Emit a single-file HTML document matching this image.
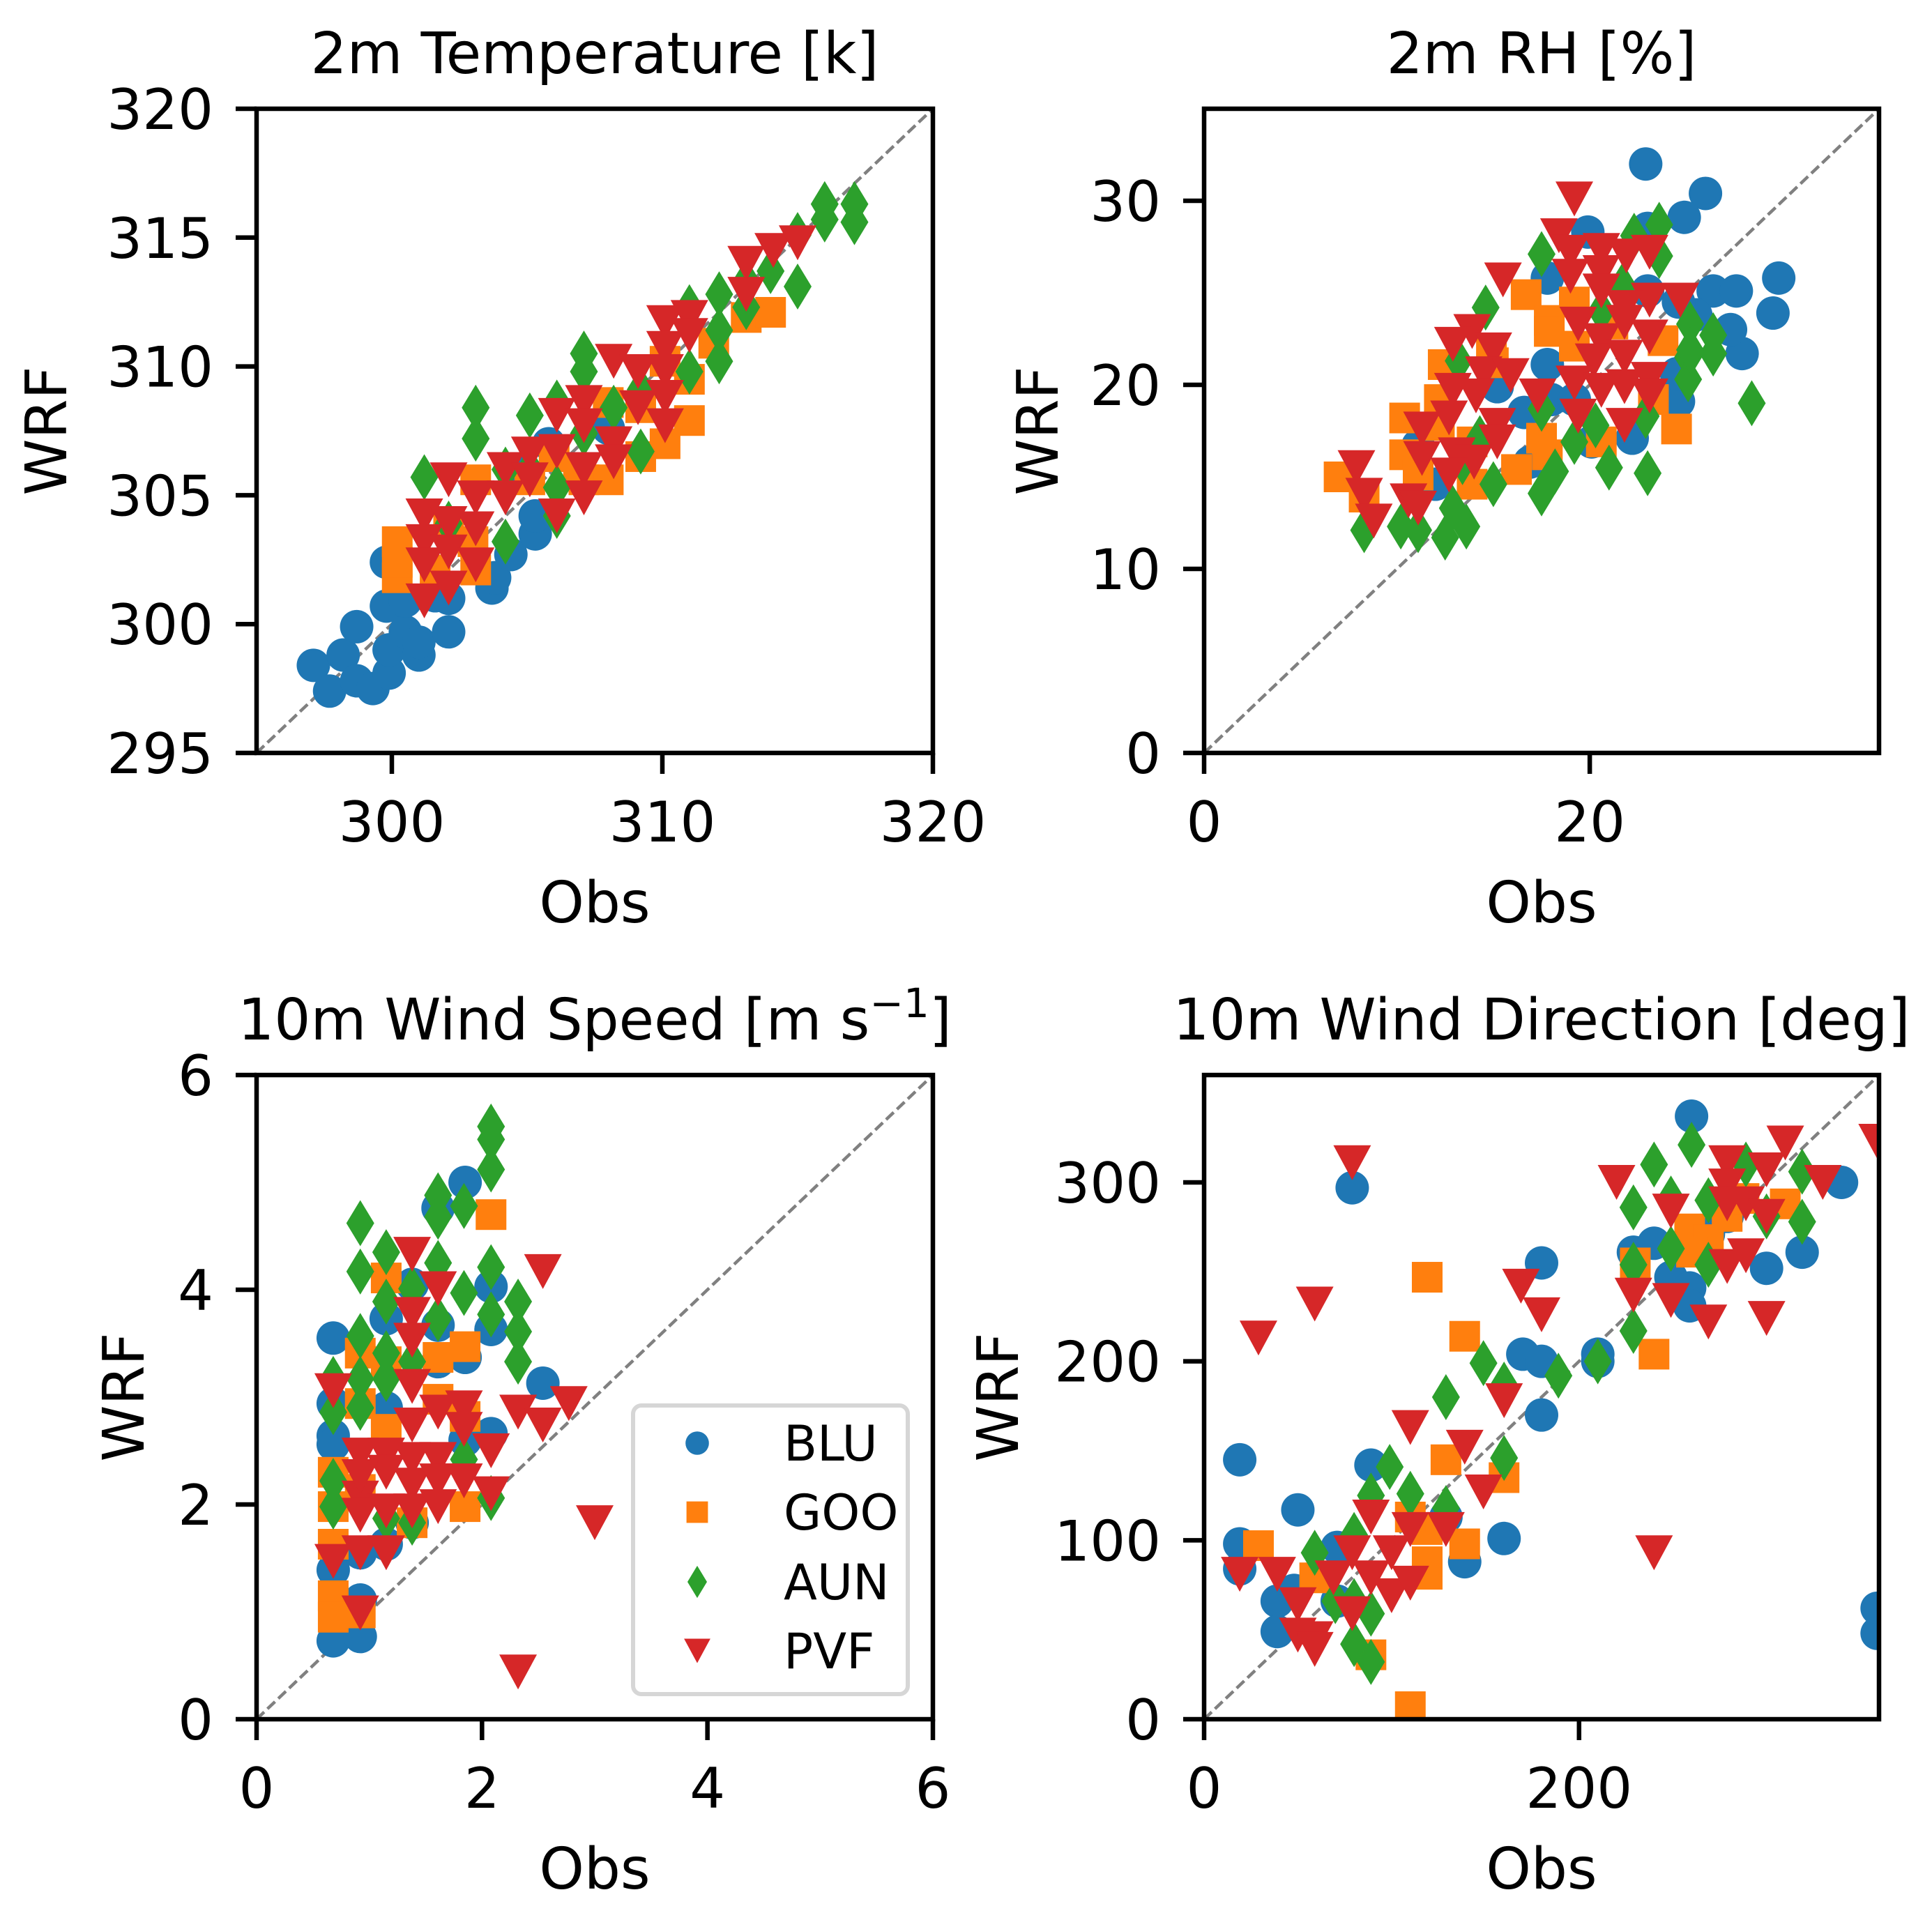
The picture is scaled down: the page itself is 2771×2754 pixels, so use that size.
<!DOCTYPE html>
<html><head><meta charset="utf-8"><style>
html,body{margin:0;padding:0;background:#fff;}
svg{display:block;font-family:"DejaVu Sans","Liberation Sans",sans-serif;}
</style></head><body>
<svg id="fig" xmlns="http://www.w3.org/2000/svg" width="2771" height="2754" viewBox="0 0 2771 2754">
<rect width="2771" height="2754" fill="#fff"/>
</svg>
<script>
// ---------- Panel 1: 2m Temperature ----------
const p1_blu_x=[297.1,297.7,298.2,298.7,298.7,299.3,299.9,299.9,299.8,299.8,300.5,301.0,301.0,302.1,301.6,302.1,303.7,303.8,304.4,305.3,305.3,304.8,305.8,308.0,300.5];
const p1_blu_y=[298.4,297.4,298.8,299.9,297.8,297.5,298.1,299.0,300.7,302.4,299.7,298.8,299.3,299.7,301.1,301.0,301.4,301.8,302.7,303.5,304.2,306.0,307.0,307.6,300.9];
const p1_goo_x=[300.2,300.2,300.2,301.6,303.1,303.1,303.0,302.1,305.1,306.0,307.1,308.0,308.0,309.2,310.1,311.0,311.0,310.1,311.9,313.1,314.0,306.9,309.2];
const p1_goo_y=[303.2,301.8,302.4,302.1,302.1,305.6,303.2,303.9,305.6,306.5,305.6,305.6,308.6,306.5,307.0,307.9,309.5,310.2,310.9,311.9,312.1,306.0,308.4];
const p1_aun_x=[301.2,303.1,303.1,302.1,304.2,304.2,305.1,306.1,306.1,306.1,307.1,307.1,307.1,308.2,309.2,309.2,311.0,311.0,312.1,312.1,312.1,313.1,313.1,314.0,315.0,315.0,316.0,316.0,317.1,317.1,305.1];
const p1_aun_y=[305.7,308.4,307.2,303.9,303.2,306.0,308.1,308.6,304.2,305.3,310.5,309.8,307.4,308.4,306.7,309.1,309.8,312.3,311.4,310.2,312.8,312.3,313.3,313.7,315.1,313.1,316.3,315.7,316.3,315.6,306.0];
const p1_pvf_x=[301.2,301.2,301.2,301.2,302.1,302.1,302.1,302.1,303.1,303.1,303.1,304.2,304.2,305.1,305.1,306.1,306.1,306.1,307.1,307.1,307.1,307.1,308.2,308.2,308.2,309.1,309.1,310.1,310.1,310.1,310.1,310.1,311.0,311.0,313.1,313.1,314.1,315.0];
const p1_pvf_y=[304.2,303.2,302.3,300.9,305.6,303.9,302.8,301.4,304.9,303.7,302.3,306.0,304.9,306.6,305.6,308.1,306.7,304.2,308.6,307.7,306.0,304.9,310.2,307.0,306.3,309.8,308.4,311.7,310.7,309.8,308.8,307.7,311.9,311.2,314.0,312.8,314.5,314.8];
const p1_xticks=[300,310,320];
const p1_yticks=[295,300,305,310,315,320];

// ---------- Panel 2: 2m RH ----------
const p2_blu_x=[22.9,26.0,24.9,19.9,23.0,29.8,26.4,27.6,29.5,27.9,27.3,25.5,24.6,23.0,17.8,17.8,24.6,22.2,20.1,16.6,16.9,11.1,12.0,15.2,18.0,19.2,24.5];
const p2_blu_y=[32.0,30.4,29.1,28.3,28.5,25.8,25.1,25.1,23.9,21.7,23.0,23.8,24.5,25.1,25.8,21.1,19.1,17.1,16.9,18.5,15.8,16.7,14.6,19.9,19.2,19.2,20.6];
const p2_goo_x=[16.7,17.9,17.9,19.2,19.2,12.4,14.9,15.0,12.2,10.4,10.4,7.0,8.3,12.2,13.9,16.2,17.5,17.8,20.6,24.5,23.3,23.8,13.9,11.1,21.2];
const p2_goo_y=[24.9,23.5,22.9,24.5,22.1,21.1,21.9,21.2,19.2,18.2,16.2,15.0,13.9,17.8,16.9,15.4,17.1,16.2,16.9,17.6,19.2,22.4,14.6,15.1,23.3];
const p2_aun_x=[17.5,23.6,22.3,23.6,14.6,26.4,26.4,25.2,25.1,25.1,28.4,22.9,21.0,23.0,17.5,18.2,19.2,20.3,17.5,15.0,14.3,13.4,13.6,12.5,10.2,8.3,11.1,13.2,12.9,20.6,21.7,25.2];
const p2_aun_y=[27.1,28.7,28.1,27.0,24.2,22.7,21.7,23.3,21.5,20.3,19.0,18.3,15.5,15.2,14.1,15.3,16.9,17.8,18.7,14.6,17.1,15.8,12.3,11.7,12.3,12.1,12.1,21.3,13.3,24.0,25.4,21.9];
const p2_pvf_x=[19.2,18.4,19.0,20.6,21.9,23.1,19.0,20.6,20.6,15.5,24.7,23.1,21.8,19.4,20.6,21.8,23.1,13.9,12.9,15.0,20.2,21.8,14.5,15.9,12.9,14.1,17.3,19.2,20.6,21.8,23.1,23.1,11.3,12.7,15.2,15.2,19.4,21.8,13.1,14.0,11.3,7.9,12.7,8.3,10.6,11.1,8.8];
const p2_pvf_y=[30.1,28.1,27.2,27.3,27.0,27.2,25.9,26.1,25.1,25.7,24.6,24.6,24.2,23.3,22.4,23.4,22.6,22.9,22.2,21.9,21.3,21.5,20.6,20.5,19.7,19.4,19.4,20.1,19.7,19.9,20.3,19.4,17.6,18.2,17.8,16.9,18.3,17.8,16.2,15.8,16.0,15.5,15.1,14.0,13.7,13.3,12.6];
const p2_xticks=[0,20];
const p2_yticks=[0,10,20,30];

// ---------- Panel 3: 10m Wind Speed ----------
const p3_blu_x=[0.68,0.68,0.68,0.68,0.68,0.68,0.92,0.92,0.92,1.15,1.15,1.38,1.61,1.61,1.61,1.85,1.85,1.85,2.08,2.08,2.08,2.54,1.15,1.38];
const p3_blu_y=[3.55,2.94,2.64,2.56,1.39,0.73,0.77,1.11,1.55,3.73,2.9,4.05,4.76,3.67,3.33,5.0,3.37,2.6,4.03,3.63,2.66,3.13,1.63,1.83];
const p3_goo_x=[0.68,0.68,0.68,0.68,0.68,0.92,0.92,0.92,1.15,1.15,1.15,1.38,1.61,1.61,1.85,1.85,1.85,2.08,0.92];
const p3_goo_y=[1.15,0.95,1.63,2.3,1.98,0.99,2.94,3.41,4.11,3.33,2.7,1.83,3.37,2.98,3.47,2.82,1.98,4.7,2.14];
const p3_aun_x=[0.92,0.92,1.15,1.15,1.61,1.61,1.61,1.84,1.84,2.08,2.08,2.08,2.08,2.08,2.32,2.32,2.32,0.68,0.68,0.68,0.68,0.92,0.92,0.92,1.15,1.15,1.38,1.38,1.61,1.38,2.08,1.15,1.84];
const p3_aun_y=[4.62,4.17,4.35,3.89,4.88,4.68,4.25,4.78,3.97,5.52,5.4,5.12,4.21,3.77,3.89,3.61,3.33,3.17,2.86,2.22,1.98,3.57,3.17,2.9,3.41,3.17,4.01,3.33,3.73,1.83,2.06,1.87,2.42];
const p3_pvf_x=[0.68,0.68,0.92,0.92,1.15,0.92,0.92,0.92,1.15,1.15,1.15,1.38,1.38,1.38,1.38,1.38,1.38,1.38,1.38,1.61,1.61,1.61,1.61,1.61,1.84,1.84,1.84,2.08,2.08,2.32,2.54,2.54,2.77,3.0,2.32,0.92];
const p3_pvf_y=[3.06,1.47,1.55,0.99,1.55,2.46,2.06,1.9,2.46,2.3,1.94,4.33,3.77,3.53,3.1,2.74,2.42,2.18,1.94,4.01,2.86,2.42,2.22,1.98,2.9,2.7,2.22,2.5,2.1,2.86,4.17,2.74,2.94,1.83,0.44,2.26];
const p3_xticks=[0,2,4,6];
const p3_yticks=[0,2,4,6];

// ---------- Panel 4: 10m Wind Direction ----------
const p4_blu_x=[19,19,19,39,39,50,48,71,71,89,79,129,139,160,170,180,180,180,210,210,229,240,249,259,259,260,269,279,300,319,340,359,359];
const p4_blu_y=[145,98,84,66,49,117,72,96,66,142,297,113,88,101,204,200,170,255,204,200,261,266,247,241,231,337,271,281,252,261,300,62,48];
const p4_goo_x=[29,59,89,110,119,139,129,119,119,119,110,139,160,230,240,259,269,279,310,260,288];
const p4_goo_y=[97,79,36,7,247,214,145,88,81,106,113,98,135,255,204,274,268,281,288,261,291];
const p4_aun_x=[59,80,80,89,89,89,99,110,129,129,149,160,160,189,210,229,229,229,240,249,249,260,269,269,289,300,319,319,70,80];
const p4_aun_y=[93,103,42,59,32,125,141,126,180,118,199,187,146,192,200,286,217,254,310,291,263,321,290,254,310,281,306,278,66,66];
const p4_pvf_x=[79,29,59,19,39,50,59,50,59,69,79,79,89,89,100,110,100,110,110,129,139,149,160,169,180,220,229,240,249,249,269,279,279,279,279,289,289,300,300,300,310,330,359];
const p4_pvf_y=[311,213,232,81,81,64,45,47,39,79,59,93,113,79,69,76,93,163,106,106,152,127,178,242,226,300,237,93,234,284,222,311,298,288,253,259,288,307,281,224,322,300,323];
const p4_xticks=[0,200];
const p4_yticks=[0,100,200,300];

const series=['BLU','GOO','AUN','PVF'];
const colors=['#1f77b4','#ff7f0e','#2ca02c','#d62728'];

const NS='http://www.w3.org/2000/svg';
const svg=document.getElementById('fig');
function mk(tag,attrs,parent){const e=document.createElementNS(NS,tag);for(const k in attrs)e.setAttribute(k,attrs[k]);(parent||svg).appendChild(e);return e;}

function marker(g,kind,cx,cy,col,scale){
  const s=scale||1;let e;
  if(kind===0){e=mk('circle',{cx:cx,cy:cy,r:24*s,fill:col},g);}
  else if(kind===1){const h=22*s;e=mk('rect',{x:cx-h,y:cy-h,width:2*h,height:2*h,fill:col},g);}
  else if(kind===2){const w=20*s,h=33*s;e=mk('polygon',{points:`${cx},${cy-h} ${cx+w},${cy} ${cx},${cy+h} ${cx-w},${cy}`,fill:col},g);}
  else {const w=27*s,h=25*s;e=mk('polygon',{points:`${cx-w},${cy-h} ${cx+w},${cy-h} ${cx},${cy+h}`,fill:col},g);}
  return e;
}

function panel(id,L,R,T,B,xmin,xmax,ymin,ymax,xticks,yticks,title,ylabX,data,legend){
  const g=mk('g',{});
  
  
  const sx=v=>L+(v-xmin)/(xmax-xmin)*(R-L);
  const sy=v=>B-(v-ymin)/(ymax-ymin)*(B-T);
  const cp=mk('clipPath',{id:id+'-clip'},g);
  mk('rect',{x:L,y:T,width:R-L,height:B-T},cp);
  const plot=mk('g',{'clip-path':`url(#${id}-clip)`},g);
  
  
  const d=mk('line',{x1:sx(xmin),y1:sy(ymin),x2:sx(xmax),y2:sy(ymax),stroke:'#808080','stroke-width':4.5,'stroke-dasharray':'15,6.5'},plot);
  
  
  data.forEach((sr,i)=>{
    const sg=mk('g',{},plot);
    
    
    sr[0].forEach((xv,j)=>{
      const m=marker(sg,i,sx(xv),sy(sr[1][j]),colors[i]);
      
      
    });
  });
  xticks.forEach(t=>{
    const x=sx(t);
    const tl=mk('line',{x1:x,y1:B,x2:x,y2:B+30,stroke:'#000','stroke-width':6.5},g);
    
    
    const tx=mk('text',{x:x,y:B+127,'text-anchor':'middle','font-size':80},g);
    tx.textContent=t;
    
    
  });
  yticks.forEach(t=>{
    const y=sy(t);
    const tl=mk('line',{x1:L-30,y1:y,x2:L,y2:y,stroke:'#000','stroke-width':6.5},g);
    
    
    const tx=mk('text',{x:L-62,y:y+29,'text-anchor':'end','font-size':80},g);
    tx.textContent=t;
    
    
  });
  const fr=mk('rect',{x:L,y:T,width:R-L,height:B-T,fill:'none',stroke:'#000','stroke-width':6.5,'stroke-linejoin':'miter'},g);
  
  
  const tt=mk('text',{x:(L+R)/2,y:T-51,'text-anchor':'middle','font-size':82},g);
  tt.innerHTML=title;
  
  
  const xl=mk('text',{x:(L+R)/2,y:B+243,'text-anchor':'middle','font-size':82},g);
  xl.textContent='Obs';
  
  
  const yc=(T+B)/2;
  const yl=mk('text',{x:ylabX,y:yc,'text-anchor':'middle','font-size':82,transform:`rotate(-90 ${ylabX} ${yc})`},g);
  yl.textContent='WRF';
  
  
  if(legend){
    const lg=mk('g',{},g);
    
    
    mk('rect',{x:908,y:2016,width:394,height:414,rx:12,fill:'#fff','fill-opacity':0.85,stroke:'#d6d6d6','stroke-width':6},lg);
    const ys=[2070,2169,2269,2368];
    series.forEach((s,i)=>{
      const eg=mk('g',{},lg);
      
      
      marker(eg,i,1000,ys[i],colors[i],0.7);
      const t=mk('text',{x:1124,y:ys[i]+25,'font-size':70},eg);
      t.textContent=s;
    });
  }
}

panel('temperature',368,1338,156,1080,295,320,295,320,p1_xticks,p1_yticks,'2m Temperature [k]',95,
  [[p1_blu_x,p1_blu_y],[p1_goo_x,p1_goo_y],[p1_aun_x,p1_aun_y],[p1_pvf_x,p1_pvf_y]],false);
panel('rh',1727,2695,156,1080,0,35,0,35,p2_xticks,p2_yticks,'2m RH [%]',1517,
  [[p2_blu_x,p2_blu_y],[p2_goo_x,p2_goo_y],[p2_aun_x,p2_aun_y],[p2_pvf_x,p2_pvf_y]],false);
panel('wind-speed',368,1338,1542,2466,0,6,0,6,p3_xticks,p3_yticks,'10m Wind Speed [m s<tspan dy="-32" font-size="58">−1</tspan><tspan dy="32">]</tspan>',206,
  [[p3_blu_x,p3_blu_y],[p3_goo_x,p3_goo_y],[p3_aun_x,p3_aun_y],[p3_pvf_x,p3_pvf_y]],true);
panel('wind-direction',1727,2695,1542,2466,0,360,0,360,p4_xticks,p4_yticks,'10m Wind Direction [deg]',1460,
  [[p4_blu_x,p4_blu_y],[p4_goo_x,p4_goo_y],[p4_aun_x,p4_aun_y],[p4_pvf_x,p4_pvf_y]],false);
</script>
</body></html>
